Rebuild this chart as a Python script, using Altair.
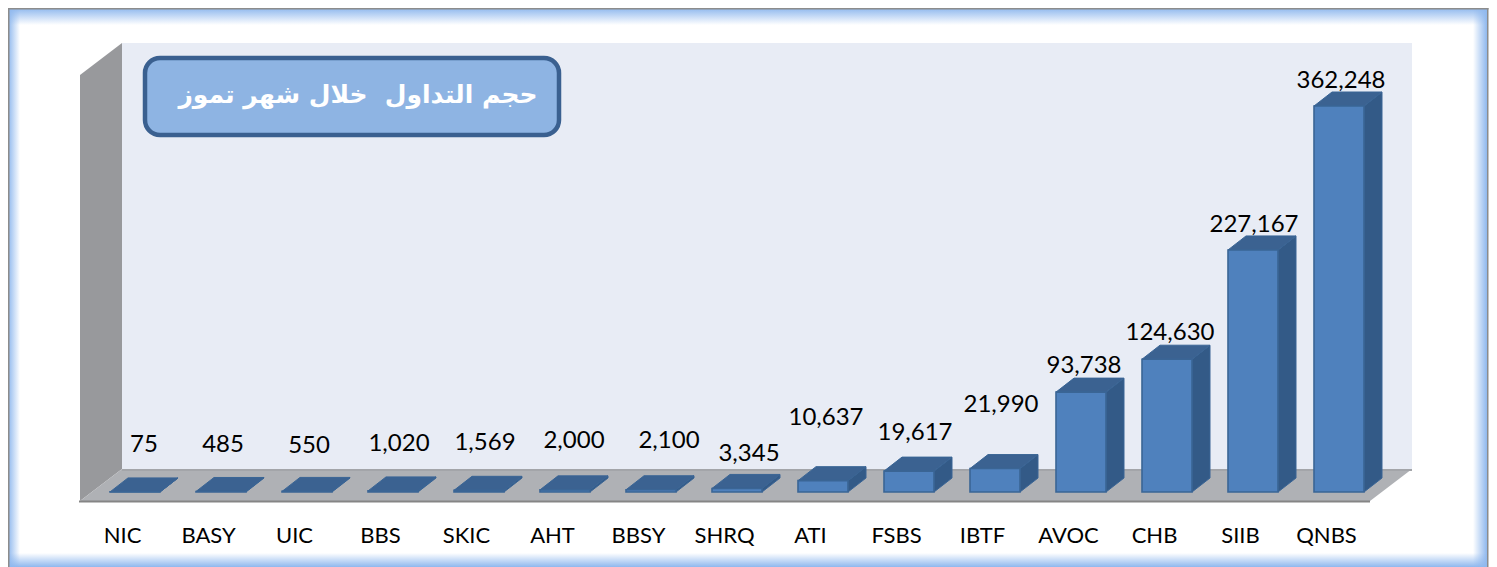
import altair as alt
import pandas as pd

# ---------- data ----------
tickers = ["NIC", "BASY", "UIC", "BBS", "SKIC", "AHT", "BBSY", "SHRQ", "ATI", "FSBS", "IBTF", "AVOC", "CHB", "SIIB", "QNBS"]
volumes = [75, 485, 550, 1020, 1569, 2000, 2100, 3345, 10637, 19617, 21990, 93738, 124630, 227167, 362248]
title_text = "حجم التداول\u00a0\u00a0خلال شهر تموز"

# ---------- layout (picture pixels; the svg starts at 8,8) ----------
W, H = 1481, 559
SLOT = 86.0
X0 = 80.0                 # front-left floor corner
Y0 = 492.0                # value 0 on the bar fronts
PX_PER_UNIT = 386.0 / 362248.0
label_px_x = [144, 223, 309, 399, 485, 574, 669, 749, 826, 915, 1001, 1084, 1170, 1254, 1341]
label_px_y = [445, 445, 446, 444, 443, 441, 441, 454, 418, 433, 405, 366, 333, 225, 81]


def ux(px):
    return (px - X0) / SLOT


def uy(py):
    return (Y0 - py) / PX_PER_UNIT


xs = alt.Scale(domain=[ux(8), ux(8 + W)], nice=False, zero=False)
ys = alt.Scale(domain=[uy(8 + H), uy(8)], nice=False, zero=False)

axis = alt.Axis(
    orient="bottom", values=[i + 0.5 for i in range(len(tickers))],
    labelExpr="{t}[round(datum.value - 0.5)]".format(t=str(tickers)),
    offset=-32, domain=False, ticks=False, grid=False, title=None, zindex=1,
    labelFont="Lato", labelFontSize=22, labelColor="#000000", labelPadding=0, labelOffset=-1,
    labelBaseline="middle", labelAngle=0, labelAlign="center", labelFlush=False, labelOverlap=False,
)
X = lambda f="x": alt.X(f"{f}:Q", scale=xs, axis=axis)
Y = lambda f="y": alt.Y(f"{f}:Q", scale=ys, axis=None)
Y2 = lambda f="y2": alt.Y2(f"{f}:Q")

# scene faces
BAR_L, BAR_W = 30 / SLOT, 50 / SLOT
DX, DYV = 18 / SLOT, 14 / PX_PER_UNIT

front, side, top = [], [], []
for i, (t, v) in enumerate(zip(tickers, volumes)):
    l, r = i + BAR_L, i + BAR_L + BAR_W
    front.append({"t": t, "x": l, "x2": r, "y": v, "y2": 0})
    side += [{"t": t, "x": r, "y": v, "y2": 0}, {"t": t, "x": r + DX, "y": v + DYV, "y2": DYV}]
    top += [
        {"t": t, "x": l, "y": v, "y2": v},
        {"t": t, "x": l + DX, "y": v + DYV, "y2": v},
        {"t": t, "x": r, "y": v + DYV, "y2": v},
        {"t": t, "x": r + DX, "y": v + DYV, "y2": v + DYV},
    ]

labels = pd.DataFrame({
    "value": volumes,
    "x": [ux(p) for p in label_px_x],
    "y": [uy(p) for p in label_px_y],
})

wall_back = pd.DataFrame([{"x": ux(122), "x2": ux(1412), "y": uy(43), "y2": uy(470)}])
wall_left = pd.DataFrame([
    {"x": ux(80), "y": uy(75), "y2": uy(501)},
    {"x": ux(122), "y": uy(43), "y2": uy(469)},
])
floor = pd.DataFrame([
    {"x": ux(80), "y": uy(501), "y2": uy(501)},
    {"x": ux(122), "y": uy(469), "y2": uy(501)},
    {"x": ux(1370), "y": uy(469), "y2": uy(501)},
    {"x": ux(1412), "y": uy(469), "y2": uy(469)},
])
floor_edge = pd.DataFrame([{"x": ux(79), "x2": ux(1370), "y": uy(500.5), "y2": uy(502.5)}])
floor_back = pd.DataFrame([{"x": ux(122), "x2": ux(1412), "y": uy(469), "y2": uy(471)}])


def rect_face(df, color):
    return alt.Chart(df).mark_rect(color=color).encode(x=X(), x2=alt.X2("x2:Q"), y=Y(), y2=Y2())


# frame strips with pixel positions
def grad(c_from, c_to, horizontal):
    return alt.LinearGradient(
        gradient="linear",
        stops=[alt.GradientStop(offset=0, color=c_from), alt.GradientStop(offset=1, color=c_to)],
        x1=0, y1=0, x2=1 if horizontal else 0, y2=0 if horizontal else 1,
    )


def strip(x, x2, y, y2, color):
    return alt.Chart(pd.DataFrame({"a": [0]})).mark_rect(color=color, opacity=1).encode(
        x=alt.value(x), x2=alt.value(x2), y=alt.value(y), y2=alt.value(y2)
    )


BLUE = "#8FB8EE"
CLEAR = "rgba(143,184,238,0)"
frame = [
    strip(0, 12, 0, H, grad(BLUE, CLEAR, True)),
    strip(W - 16, W - 2, 0, H, grad(CLEAR, BLUE, True)),
    strip(0, W - 2, 0, 17, grad(BLUE, CLEAR, False)),
    strip(0, W - 2, H - 14, H, grad(CLEAR, BLUE, False)),
    strip(0, 1.5, 0, H, "#8c8c8c"),
    strip(0, W - 0.5, 0, 1.5, "#8c8c8c"),
    strip(W - 2, W - 0.5, 0, H, "#8c8c8c"),
]

scene = [
    rect_face(wall_back, "#E8ECF5"),
    alt.Chart(wall_left).mark_area(color="#98999C").encode(x=X(), y=Y(), y2=Y2()),
    alt.Chart(floor).mark_area(color="#AFB1B5").encode(x=X(), y=Y(), y2=Y2()),
    rect_face(floor_back, "#A3A5A9"),
    rect_face(floor_edge, "#858585"),
]

bars = [
    alt.Chart(pd.DataFrame(side)).mark_area(color="#335A87", stroke="#3A6595", strokeWidth=1).encode(
        x=X(), y=Y(), y2=Y2(), detail="t:N"),
    alt.Chart(pd.DataFrame(top)).mark_area(color="#3B6291", stroke="#3A6595", strokeWidth=1).encode(
        x=X(), y=Y(), y2=Y2(), detail="t:N"),
    alt.Chart(pd.DataFrame(front)).mark_rect(color="#4F81BD", stroke="#3A6595", strokeWidth=1.6).encode(
        x=X(), x2=alt.X2("x2:Q"), y=Y(), y2=Y2()),
]

value_text = alt.Chart(labels).mark_text(font="Lato", fontSize=24, color="#000000", baseline="middle").encode(
    x=X(), y=Y(), text=alt.Text("value:Q", format=",d"))

title_box = alt.Chart(pd.DataFrame({"a": [0]})).mark_rect(
    color="#8EB4E3", stroke="#3A6090", strokeWidth=4.5, cornerRadius=15
).encode(x=alt.value(137), x2=alt.value(551), y=alt.value(50), y2=alt.value(127))
title_mark = alt.Chart(pd.DataFrame({"t": [title_text]})).mark_text(
    font="DejaVu Sans", fontWeight="bold", fontSize=25, color="#ffffff", baseline="middle", align="center"
).encode(x=alt.value(350), y=alt.value(87), text="t:N")

chart = alt.layer(
    *frame, *scene, *bars, value_text, title_box, title_mark
).properties(width=W, height=H, padding=0, background="#ffffff").configure_view(stroke=None)

chart.save("out.html", embed_options={"renderer": "svg", "actions": False})
